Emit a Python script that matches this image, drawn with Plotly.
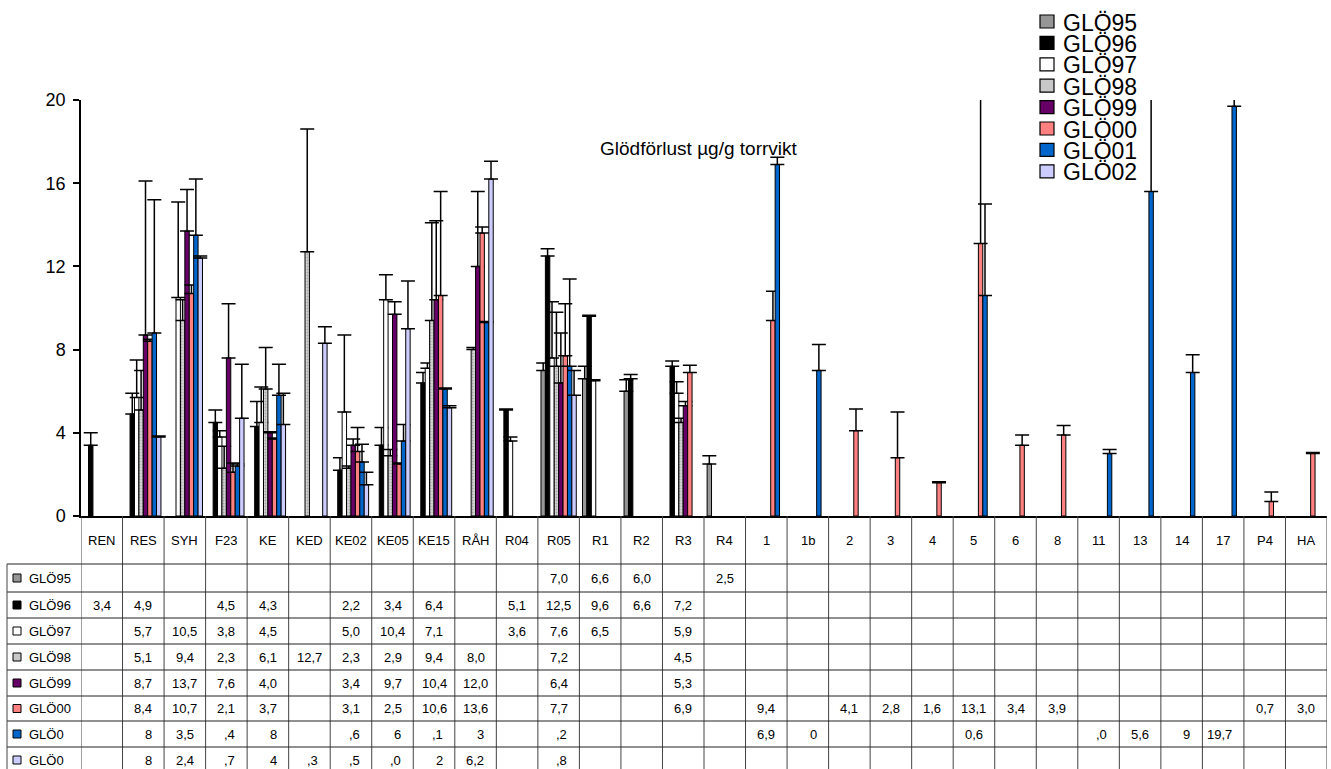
import plotly.graph_objects as go

N = None

categories = ["REN", "RES", "SYH", "F23", "KE", "KED", "KE02", "KE05", "KE15", "RÅH",
              "R04", "R05", "R1", "R2", "R3", "R4", "1", "1b", "2", "3",
              "4", "5", "6", "8", "11", "13", "14", "17", "P4", "HA"]

series_names = ["GLÖ95", "GLÖ96", "GLÖ97", "GLÖ98", "GLÖ99", "GLÖ00", "GLÖ01", "GLÖ02"]
row_labels = ["GLÖ95", "GLÖ96", "GLÖ97", "GLÖ98", "GLÖ99", "GLÖ00", "GLÖ0", "GLÖ0"]

glo95 = [N, N, N, N, N, N, N, N, N, N, N, 7.0, 6.6, 6.0, N, 2.5,
         N, N, N, N, N, N, N, N, N, N, N, N, N, N]
glo95_err = [N, N, N, N, N, N, N, N, N, N, N, 0.35, 0.6, 0.55, N, 0.4,
             N, N, N, N, N, N, N, N, N, N, N, N, N, N]

glo96 = [3.4, 4.9, N, 4.5, 4.3, N, 2.2, 3.4, 6.4, N, 5.1, 12.5, 9.6, 6.6, 7.2, N,
         N, N, N, N, N, N, N, N, N, N, N, N, N, N]
glo96_err = [0.6, 1.0, N, 0.6, 1.2, N, 0.6, 0.85, 0.5, N, 0.05, 0.35, 0.05, 0.2, 0.25, N,
             N, N, N, N, N, N, N, N, N, N, N, N, N, N]

glo97 = [N, 5.7, 10.5, 3.8, 4.5, N, 5.0, 10.4, 7.1, N, 3.6, 7.6, 6.5, N, 5.9, N,
         N, N, N, N, N, N, N, N, N, N, N, N, N, N]
glo97_err = [N, 1.8, 4.6, 0.3, 1.7, N, 3.7, 1.2, 0.25, N, 0.2, 2.7, 0.05, N, 0.55, N,
             N, N, N, N, N, N, N, N, N, N, N, N, N, N]

glo98 = [N, 5.1, 9.4, 2.3, 6.1, 12.7, 2.3, 2.9, 9.4, 8.0, N, 7.2, N, N, 4.5, N,
         N, N, N, N, N, N, N, N, N, N, N, N, N, N]
glo98_err = [N, 1.9, 1.0, 1.05, 2.0, 5.9, 0.1, 0.3, 4.7, 0.1, N, 2.6, N, N, 0.2, N,
             N, N, N, N, N, N, N, N, N, N, N, N, N, N]

glo99 = [N, 8.7, 13.7, 7.6, 4.0, N, 3.4, 9.7, 10.4, 12.0, N, 6.4, N, N, 5.3, N,
         N, N, N, N, N, N, N, N, N, N, N, N, N, N]
glo99_err = [N, 7.4, 2.0, 2.6, 0.05, N, 0.3, 0.6, 3.8, 3.6, N, 2.4, N, N, 0.2, N,
             N, N, N, N, N, N, N, N, N, N, N, N, N, N]

glo00 = [N, 8.4, 10.7, 2.1, 3.7, N, 3.1, 2.5, 10.6, 13.6, N, 7.7, N, N, 6.9, N,
         9.4, N, 4.1, 2.8, 1.6, 13.1, 3.4, 3.9, N, N, N, N, 0.7, 3.0]
glo00_err = [N, 0.1, 0.4, 0.45, 0.05, N, 1.15, 0.05, 5.0, 0.3, N, 2.5, N, N, 0.35, N,
             1.4, N, 1.05, 2.2, 0.05, 8.0, 0.5, 0.45, N, N, N, N, 0.45, 0.05]

glo01 = [N, 8.8, 13.5, 2.4, 5.8, N, 2.6, 3.6, 6.1, 9.3, N, 7.2, N, N, N, N,
         16.9, 7.0, N, N, N, 10.6, N, N, 3.0, 15.6, 6.9, 19.7, N, N]
glo01_err = [N, 6.4, 2.7, 0.1, 1.5, N, 0.85, 0.8, 0.05, 0.05, N, 4.2, N, N, N, N,
             0.35, 1.25, N, N, N, 4.4, N, N, 0.2, 6.0, 0.85, 2.0, N, N]

glo02 = [N, 3.8, 12.4, 4.7, 4.4, 8.3, 1.5, 9.0, 5.2, 16.2, N, 5.8, N, N, N, N,
         N, N, N, N, N, N, N, N, N, N, N, N, N, N]
glo02_err = [N, 0.05, 0.1, 2.6, 1.5, 0.8, 0.6, 2.3, 0.1, 0.85, N, 1.2, N, N, N, N,
             N, N, N, N, N, N, N, N, N, N, N, N, N, N]

# the two last table rows are too narrow for their numbers, so only the tail shows
glo01_shown = ["", "8", "3,5", ",4", "8", "", ",6", "6", ",1", "3", "", ",2", "", "", "", "",
               "6,9", "0", "", "", "", "0,6", "", "", ",0", "5,6", "9", "19,7", "", ""]
glo02_shown = ["", "8", "2,4", ",7", "4", ",3", ",5", ",0", "2", "6,2", "", ",8", "", "", "", "",
               "", "", "", "", "", "", "", "", "", "", "", "", "", ""]

y_ticks = [0, 4, 8, 12, 16, 20]
title_text = "Glödförlust µg/g torrvikt"

values = [glo95, glo96, glo97, glo98, glo99, glo00, glo01, glo02]
errors = [glo95_err, glo96_err, glo97_err, glo98_err, glo99_err, glo00_err, glo01_err, glo02_err]
fills = ["#969696", "#000000", "#FFFFFF", "#C8C8C8", "#660066", "#FF8080", "#0066CC", "#CCCCFF"]

FONT = "Liberation Sans, Arial, sans-serif"
W, H = 1331, 769
L, R, T, B = 81, 4, 100, 253
PW, PH = W - L - R, H - T - B


def px_x(p):
    return (p - L) / PW


def px_y(p):
    return (H - B - p) / PH


fig = go.Figure()
for name, vals, errs, col in zip(series_names, values, errors, fills):
    marker = dict(color=col, line=dict(color="black", width=1))
    if name == "GLÖ98":
        marker["pattern"] = dict(shape=".", fgcolor="#707070", bgcolor="#D4D4D4",
                                 size=3, solidity=0.3)
    fig.add_trace(go.Bar(
        x=categories, y=vals, name=name, marker=marker, showlegend=False,
        error_y=dict(type="data", symmetric=False, array=[e if e is not None else 0 for e in errs],
                     arrayminus=[0] * len(errs), color="black", thickness=1.5, width=7),
    ))

shapes = []
annotations = []

# data table: header row with category names, then one row per series
row_lines = [564, 592, 618, 644, 670, 696, 721, 747]
row_centers = [578, 605, 631, 657, 683, 708.5, 734, 760]
for k in range(len(categories) + 1):
    shapes.append(dict(type="line", xref="x", yref="paper", x0=k - 0.5, x1=k - 0.5,
                       y0=px_y(516), y1=px_y(H), line=dict(color="#444", width=1)))
for yl in row_lines:
    shapes.append(dict(type="line", xref="paper", yref="paper", x0=px_x(7), x1=1,
                       y0=px_y(yl), y1=px_y(yl), line=dict(color="#222", width=1)))
shapes.append(dict(type="line", xref="paper", yref="paper", x0=px_x(7), x1=px_x(7),
                   y0=px_y(564), y1=px_y(H), line=dict(color="#444", width=1)))

TABLE_SIZE = 13
for i, c in enumerate(categories):
    annotations.append(dict(x=i, y=px_y(540), xref="x", yref="paper", text=c, showarrow=False,
                            font=dict(family=FONT, size=TABLE_SIZE, color="black"),
                            xanchor="center", yanchor="middle"))


def fmt(v):
    return "" if v is None else f"{v:.1f}".replace(".", ",")


table_rows = [[fmt(v) for v in glo95], [fmt(v) for v in glo96], [fmt(v) for v in glo97],
              [fmt(v) for v in glo98], [fmt(v) for v in glo99], [fmt(v) for v in glo00],
              glo01_shown, glo02_shown]

for r, (lab, col, cells, yc) in enumerate(zip(row_labels, fills, table_rows, row_centers)):
    shapes.append(dict(type="rect", xref="paper", yref="paper",
                       x0=px_x(13), x1=px_x(21), y0=px_y(yc - 4), y1=px_y(yc + 4),
                       fillcolor=col, line=dict(color="black", width=1)))
    annotations.append(dict(x=px_x(27), y=px_y(yc), xref="paper", yref="paper", text=lab,
                            showarrow=False, font=dict(family=FONT, size=TABLE_SIZE, color="black"),
                            xanchor="left", yanchor="middle"))
    for i, t in enumerate(cells):
        if not t:
            continue
        if r >= 6:
            annotations.append(dict(x=i + 0.26, y=px_y(yc), xref="x", yref="paper", text=t,
                                    showarrow=False,
                                    font=dict(family=FONT, size=TABLE_SIZE, color="black"),
                                    xanchor="right", yanchor="middle"))
        else:
            annotations.append(dict(x=i, y=px_y(yc), xref="x", yref="paper", text=t,
                                    showarrow=False,
                                    font=dict(family=FONT, size=TABLE_SIZE, color="black"),
                                    xanchor="center", yanchor="middle"))

# series key in the upper right corner
for k, (name, col) in enumerate(zip(series_names, fills)):
    yc = 21.5 + 21.4 * k
    shapes.append(dict(type="rect", xref="paper", yref="paper",
                       x0=px_x(1040), x1=px_x(1054), y0=px_y(yc - 6.5), y1=px_y(yc + 6.5),
                       fillcolor=col, line=dict(color="black", width=1.2)))
    annotations.append(dict(x=px_x(1061), y=px_y(yc + 1), xref="paper", yref="paper", text=name,
                            showarrow=False, font=dict(family=FONT, size=23, color="black"),
                            xanchor="left", yanchor="middle"))

annotations.append(dict(x=px_x(699), y=px_y(148), xref="paper", yref="paper", text=title_text,
                        showarrow=False, font=dict(family=FONT, size=19, color="black"),
                        xanchor="center", yanchor="middle"))

fig.update_layout(
    width=W, height=H,
    margin=dict(l=L, r=R, t=T, b=B, pad=0),
    paper_bgcolor="white", plot_bgcolor="white",
    barmode="group", bargap=0.15, bargroupgap=0,
    font=dict(family=FONT, color="black"),
    shapes=shapes, annotations=annotations,
    xaxis=dict(type="category", range=[-0.5, len(categories) - 0.5], showticklabels=False,
               ticks="", showgrid=False, zeroline=False, showline=True,
               linecolor="black", linewidth=1.5),
    yaxis=dict(range=[0, 20], tickvals=y_ticks, ticks="outside", ticklen=6, tickwidth=1.5,
               tickcolor="black", showgrid=False, zeroline=False, showline=True,
               linecolor="black", linewidth=1.5, ticklabelstandoff=4,
               tickfont=dict(family=FONT, size=18, color="black")),
)

fig.write_html("out.html")
